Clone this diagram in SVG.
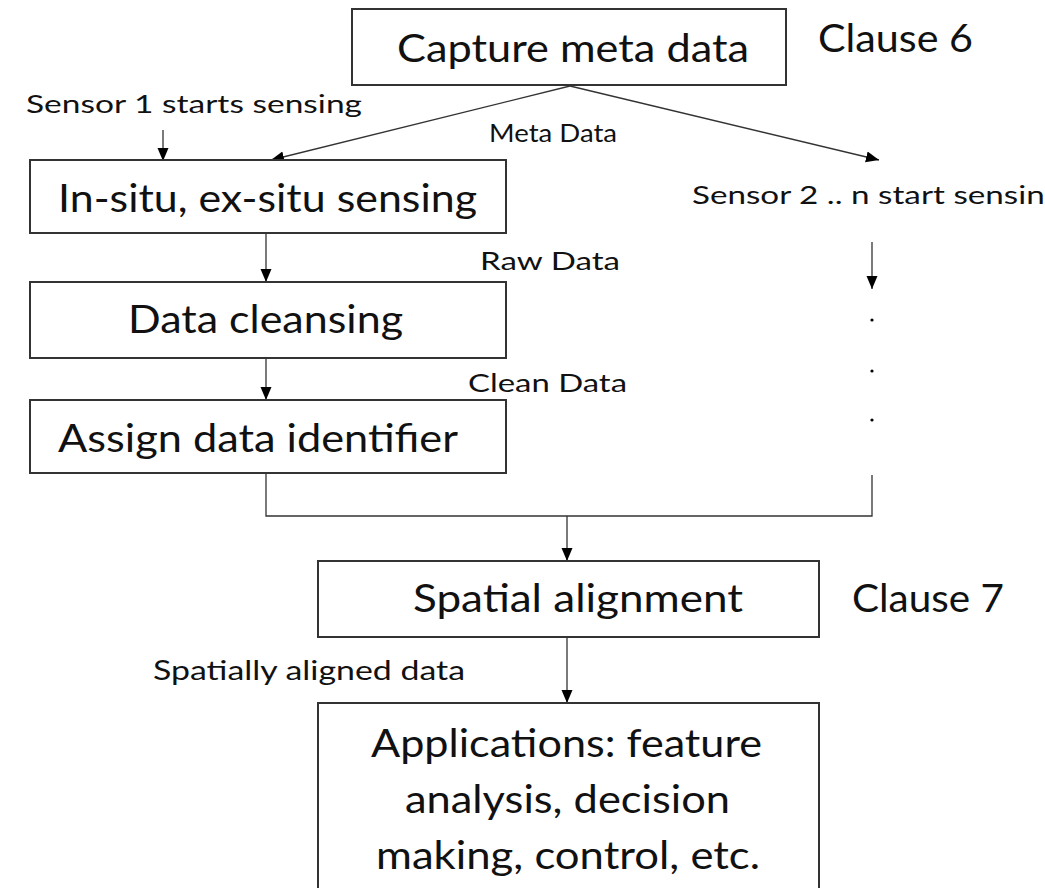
<svg xmlns="http://www.w3.org/2000/svg" width="1045" height="888" viewBox="0 0 1045 888">
<defs>
<marker id="ah" markerWidth="14" markerHeight="14" refX="13" refY="6.5" orient="auto" markerUnits="userSpaceOnUse">
<path d="M0,1 L13,6.5 L0,12 Z" fill="#000"/>
</marker>
<style>
.box{fill:#fff;stroke:#333;stroke-width:2}
.big{font-family:Lato,"Liberation Sans",sans-serif;font-size:38px;fill:#111}
.sm{font-family:Lato,"Liberation Sans",sans-serif;font-size:25px;fill:#111}
.c{stroke:#333;stroke-width:1.3;fill:none}
.ca{stroke:#333;stroke-width:1.3;fill:none;marker-end:url(#ah)}
</style>
</defs>
<rect width="1045" height="888" fill="#fff"/>
<g id="connectors">
<line class="ca" x1="570" y1="86" x2="271" y2="160"/>
<line class="ca" x1="570" y1="86" x2="879" y2="160"/>
<line class="ca" x1="163" y1="130" x2="163" y2="161"/>
<line class="ca" x1="266" y1="234" x2="266" y2="282"/>
<line class="ca" x1="266" y1="359" x2="266" y2="400"/>
<polyline class="c" points="266,474 266,516 872,516 872,475"/>
<line class="ca" x1="567" y1="516" x2="567" y2="561"/>
<line class="ca" x1="872" y1="242" x2="872" y2="289"/>
<line class="ca" x1="567" y1="637" x2="567" y2="703"/>
<circle cx="872" cy="320" r="1.6" fill="#000"/>
<circle cx="872" cy="371" r="1.6" fill="#000"/>
<circle cx="872" cy="420" r="1.6" fill="#000"/>
</g>
<g id="capture">
<rect class="box" x="352" y="9" width="434" height="76"/>
<text class="big" x="397" y="62" textLength="352" lengthAdjust="spacingAndGlyphs">Capture meta data</text>
</g>
<g id="clause6"><text class="big" x="818" y="52" textLength="155" lengthAdjust="spacingAndGlyphs">Clause 6</text></g>
<g id="sensor1"><text class="sm" x="26" y="113" textLength="336" lengthAdjust="spacingAndGlyphs">Sensor 1 starts sensing</text></g>
<g id="metadata-label"><text class="sm" x="489" y="142" textLength="128" lengthAdjust="spacingAndGlyphs">Meta Data</text></g>
<g id="sensor2"><text class="sm" x="692" y="204" textLength="370" lengthAdjust="spacingAndGlyphs">Sensor 2 .. n start sensing</text></g>
<g id="insitu">
<rect class="box" x="30" y="160" width="476" height="73"/>
<text class="big" x="58" y="212" textLength="419" lengthAdjust="spacingAndGlyphs">In-situ, ex-situ sensing</text>
</g>
<g id="rawdata-label"><text class="sm" x="480" y="270" textLength="140" lengthAdjust="spacingAndGlyphs">Raw Data</text></g>
<g id="cleansing">
<rect class="box" x="30" y="282" width="476" height="76"/>
<text class="big" x="128" y="333" textLength="275" lengthAdjust="spacingAndGlyphs">Data cleansing</text>
</g>
<g id="cleandata-label"><text class="sm" x="468" y="392" textLength="159" lengthAdjust="spacingAndGlyphs">Clean Data</text></g>
<g id="assign">
<rect class="box" x="30" y="400" width="476" height="73"/>
<text class="big" x="58" y="452" textLength="400" lengthAdjust="spacingAndGlyphs">Assign data identifier</text>
</g>
<g id="spatial">
<rect class="box" x="318" y="561" width="501" height="76"/>
<text class="big" x="413" y="612" textLength="330" lengthAdjust="spacingAndGlyphs">Spatial alignment</text>
</g>
<g id="clause7"><text class="big" x="852" y="612" textLength="152" lengthAdjust="spacingAndGlyphs">Clause 7</text></g>
<g id="aligned-label"><text class="sm" style="font-size:26px" x="153" y="680" textLength="312" lengthAdjust="spacingAndGlyphs">Spatially aligned data</text></g>
<g id="applications">
<rect class="box" x="318" y="703" width="501" height="200"/>
<text class="big" x="371" y="757" textLength="391" lengthAdjust="spacingAndGlyphs">Applications: feature</text>
<text class="big" x="405" y="813" textLength="325" lengthAdjust="spacingAndGlyphs">analysis, decision</text>
<text class="big" x="376" y="869" textLength="384" lengthAdjust="spacingAndGlyphs">making, control, etc.</text>
</g>
</svg>
